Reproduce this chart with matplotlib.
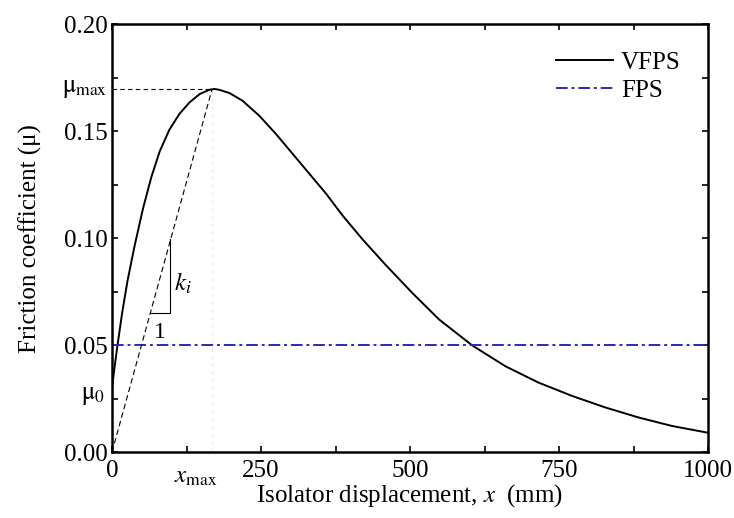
import matplotlib
matplotlib.use("Agg")
from matplotlib import pyplot as plt
from matplotlib.ticker import MultipleLocator
import matplotlib.transforms as mtransforms

plt.rcParams['font.family'] = ['Liberation Serif', 'DejaVu Serif']
plt.rcParams['mathtext.fontset'] = 'stix'

# VFPS friction curve
x_vfps = [0, 4, 9, 17, 26, 38, 52, 66, 80, 96, 113, 130, 147, 163, 172, 180, 197, 219,
          247, 275, 303, 331, 359, 387, 420, 459, 504, 549, 604, 660, 716, 772, 828,
          884, 939, 1000]
mu_vfps = [0.030, 0.039, 0.0495, 0.065, 0.080, 0.0965, 0.1138, 0.1285, 0.1405, 0.1505,
           0.158, 0.1634, 0.1673, 0.1693, 0.1697, 0.1693, 0.1678, 0.1642, 0.1572, 0.1487,
           0.1394, 0.1301, 0.1208, 0.1105, 0.0995, 0.0875, 0.0743, 0.0619, 0.0499, 0.0401,
           0.0324, 0.0262, 0.0208, 0.0161, 0.0122, 0.0090]

# FPS constant friction
x_fps = [0, 1000]
mu_fps = [0.05, 0.05]

mu_max = 0.1697
mu_0 = 0.03
x_max = 168

# slope triangle for k_i
tri_x = [64, 98, 98]
tri_y = [0.065, 0.065, 0.0998]

fig = plt.figure(figsize=(7.34, 5.18), dpi=100)
ax = fig.add_axes([0.1526, 0.1274, 0.812, 0.826])

ax.plot(x_vfps, mu_vfps, color='black', lw=1.4, label='VFPS')
ax.plot(x_fps, mu_fps, color='#2b2bb0', lw=1.4, ls=(0, (6, 2, 1.5, 2)), label='FPS')

# guide lines
ax.plot([0, x_max], [mu_max, mu_max], color='black', lw=0.8, ls=(0, (4, 3)))
ax.plot([0, x_max], [0, mu_max], color='black', lw=0.8, ls=(0, (5, 3)))
ax.plot([x_max, x_max], [0, mu_max], color='#e8e8e8', lw=0.8, ls=(0, (3, 4)))
ax.plot(tri_x, tri_y, color='black', lw=0.8)
ax.text(81, 0.061, '1', fontsize=17, ha='center', va='top')
ax.text(104, 0.079, r'$k_i$', fontsize=18, ha='left', va='center')

ax.set_xlim(0, 1000)
ax.set_ylim(0, 0.20)
ax.xaxis.set_major_locator(MultipleLocator(250))
ax.xaxis.set_minor_locator(MultipleLocator(125))
ax.yaxis.set_major_locator(MultipleLocator(0.05))
ax.yaxis.set_minor_locator(MultipleLocator(0.025))
ax.yaxis.set_major_formatter(plt.FormatStrFormatter('%.2f'))
ax.tick_params(which='both', direction='in', top=True, right=True, labelsize=18,
               length=4, width=1.2)
ax.tick_params(axis='x', pad=6)
ax.tick_params(axis='y', pad=3)
for s in ax.spines.values():
    s.set_linewidth(1.8)

# extra axis labels
trans_y = mtransforms.blended_transform_factory(ax.transAxes, ax.transData)
ax.text(-0.008, mu_max, r'$\mathrm{\mu}_{\mathrm{max}}$', transform=trans_y,
        ha='right', va='center', fontsize=18)
ax.text(-0.012, 0.026, r'$\mathrm{\mu}_{0}$', transform=trans_y,
        ha='right', va='center', fontsize=18)
trans_x = mtransforms.blended_transform_factory(ax.transData, ax.transAxes)
ax.text(140, -0.032, r'$x_{\mathrm{max}}$', transform=trans_x,
        ha='center', va='top', fontsize=18)

ax.set_xlabel(r'Isolator displacement, $x$  (mm)', fontsize=18, labelpad=0)
ax.set_ylabel('Friction coefficient (μ)', fontsize=18, labelpad=16)

ax.legend(loc='upper right', frameon=False, fontsize=18, handlelength=2.3,
          borderaxespad=0.7, handletextpad=0.3, labelspacing=0.2)

fig.savefig('out.png', dpi=100)
